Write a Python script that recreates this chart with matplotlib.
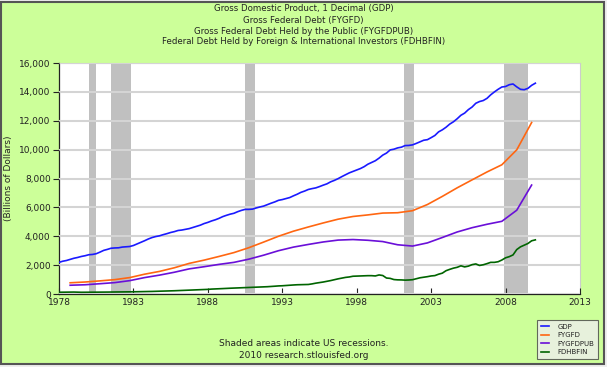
import matplotlib

matplotlib.use("Agg")

import matplotlib.pyplot as plt
import numpy as np
from matplotlib.patches import Rectangle

# quarterly GDP, 1978Q1 .. 2010Q1 (billions of dollars)
gdp = [
    2190, 2270, 2320, 2395,
    2475, 2530, 2600, 2650,
    2720, 2740, 2790, 2900,
    3020, 3090, 3170, 3190,
    3200, 3250, 3270, 3290,
    3360, 3470, 3580, 3690,
    3810, 3910, 3980, 4030,
    4110, 4180, 4260, 4320,
    4400, 4430, 4480, 4530,
    4610, 4690, 4770, 4880,
    4960, 5060, 5140, 5240,
    5360, 5450, 5530, 5590,
    5700, 5790, 5860, 5860,
    5880, 5960, 6030, 6090,
    6190, 6290, 6380, 6490,
    6540, 6610, 6680, 6800,
    6910, 7040, 7130, 7240,
    7300, 7350, 7440, 7540,
    7630, 7770, 7870, 7990,
    8130, 8260, 8390, 8490,
    8590, 8690, 8820, 8990,
    9110, 9230, 9410, 9620,
    9760, 9980, 10030, 10120,
    10170, 10280, 10290, 10330,
    10430, 10540, 10650, 10690,
    10830, 10980, 11230, 11370,
    11550, 11770, 11930, 12140,
    12380, 12530, 12770, 12950,
    13210, 13330, 13400, 13550,
    13795, 13997, 14179, 14337,
    14373, 14497, 14547, 14347,
    14178, 14151, 14242, 14453,
    14601,
]

# fiscal-year debt series, FY1978 .. FY2009
fiscal_years = list(range(1978, 2010))
fygfd = [
    777, 830, 909, 995, 1137, 1372, 1565, 1817, 2121, 2346,
    2601, 2868, 3206, 3598, 4002, 4351, 4643, 4921, 5182, 5369,
    5478, 5606, 5629, 5770, 6198, 6760, 7355, 7905, 8451, 8951,
    9986, 11876,
]
fygfdpub = [
    607, 640, 712, 789, 925, 1137, 1307, 1507, 1741, 1890,
    2052, 2191, 2412, 2689, 3000, 3248, 3433, 3604, 3734, 3772,
    3721, 3632, 3410, 3320, 3540, 3913, 4296, 4592, 4829, 5035,
    5803, 7545,
]

# quarterly foreign holdings, 1978Q1 .. 2010Q1
fdhbfin = [
    121, 125, 128, 137,
    134, 123, 119, 120,
    122, 125, 127, 130,
    131, 133, 135, 137,
    139, 141, 145, 149,
    153, 157, 162, 167,
    172, 178, 185, 192,
    200, 210, 220, 225,
    235, 250, 258, 263,
    275, 285, 290, 300,
    320, 340, 350, 362,
    375, 390, 400, 410,
    420, 435, 445, 455,
    465, 475, 480, 490,
    505, 520, 540, 560,
    570, 590, 610, 625,
    640, 645, 650, 660,
    700, 750, 790, 830,
    880, 930, 990, 1050,
    1100, 1150, 1180, 1230,
    1240, 1250, 1255, 1270,
    1270, 1250, 1320, 1280,
    1106, 1082, 1000, 980,
    975, 960, 970, 990,
    1057, 1123, 1160, 1201,
    1250, 1275, 1371, 1443,
    1614, 1708, 1791, 1849,
    1952, 1877, 1930, 2033,
    2082, 1977, 2025, 2103,
    2192, 2192, 2235, 2353,
    2507, 2587, 2707, 3077,
    3265, 3385, 3497, 3685,
    3750,
]

recessions = [(1980.0, 1980.5), (1981.5, 1982.83), (1990.5, 1991.17), (2001.17, 2001.83), (2007.92, 2009.5)]

titles = [
    "Gross Domestic Product, 1 Decimal (GDP)",
    "Gross Federal Debt (FYGFD)",
    "Gross Federal Debt Held by the Public (FYGFDPUB)",
    "Federal Debt Held by Foreign & International Investors (FDHBFIN)",
]

W, H = 607, 367
BG = "#ccff99"

fig = plt.figure(figsize=(W / 100, H / 100), dpi=100, facecolor="#eeeeee")
fig.patches.append(Rectangle((1 / W, 3 / H), 603 / W, 362 / H, transform=fig.transFigure,
                             facecolor=BG, edgecolor="#555555", linewidth=1.5, zorder=-10))

ax = fig.add_axes([59 / W, (H - 294) / H, 521 / W, 231 / H])
ax.set_facecolor("white")

q_x = 1978 + np.arange(len(gdp)) / 4.0
fy_x = np.array(fiscal_years) + 0.75

for lo, hi in recessions:
    ax.axvspan(lo, hi, color="#c0c0c0", lw=0, zorder=1)

lw = 1.2
ax.plot(q_x, gdp, color="#1a1aff", lw=lw, label="GDP", zorder=3)
ax.plot(fy_x, fygfd, color="#ff6611", lw=lw, label="FYGFD", zorder=3)
ax.plot(fy_x, fygfdpub, color="#6a0fd8", lw=lw, label="FYGFDPUB", zorder=3)
ax.plot(q_x[:len(fdhbfin)], fdhbfin, color="#006400", lw=lw, label="FDHBFIN", zorder=3)

ax.set_xlim(1978, 2013)
ax.set_ylim(0, 16000)
ax.set_xticks(np.arange(1978, 2014, 5))
ax.set_yticks(np.arange(0, 16001, 2000))
ax.yaxis.set_major_formatter(matplotlib.ticker.FuncFormatter(lambda v, _: f"{int(v):,}"))
ax.grid(axis="y", color="#d4d4d4", lw=1.5, zorder=2)
ax.set_axisbelow(False)
ax.tick_params(axis="x", direction="in", length=4, width=0.8, labelsize=6.5, pad=3, colors="#222222")
ax.tick_params(axis="y", direction="out", length=4, width=0.8, labelsize=6.5, pad=2, colors="#222222")
for s in ("left", "bottom"):
    ax.spines[s].set_color("#222222")
    ax.spines[s].set_linewidth(0.9)
for s in ("top", "right"):
    ax.spines[s].set_color("#cccccc")
    ax.spines[s].set_linewidth(0.8)
ax.set_ylabel("(Billions of Dollars)", fontsize=6.5, color="#222222")
ax.yaxis.set_label_coords((13 - 59) / 521, 0.5)

for i, t in enumerate(titles):
    fig.text(0.5, 1 - (9 + 11 * i) / H, t, ha="center", va="center", fontsize=6.2, color="#222222")

fig.text(0.5, 1 - 344 / H, "Shaded areas indicate US recessions.", ha="center", va="center",
         fontsize=6.5, color="#222222")
fig.text(0.5, 1 - 356 / H, "2010 research.stlouisfed.org", ha="center", va="center",
         fontsize=6.5, color="#222222")

leg = fig.legend(loc="lower right", bbox_to_anchor=(601 / W, (H - 362) / H), fontsize=5,
                 frameon=True, fancybox=False, handlelength=1.2, handletextpad=1.2,
                 borderpad=0.5, labelspacing=0.35)
leg.get_frame().set_facecolor("#eeeeee")
leg.get_frame().set_edgecolor("#444444")
leg.get_frame().set_linewidth(0.8)
for txt in leg.get_texts():
    txt.set_color("#222222")

fig.savefig("out.png", dpi=100, facecolor=fig.get_facecolor())
